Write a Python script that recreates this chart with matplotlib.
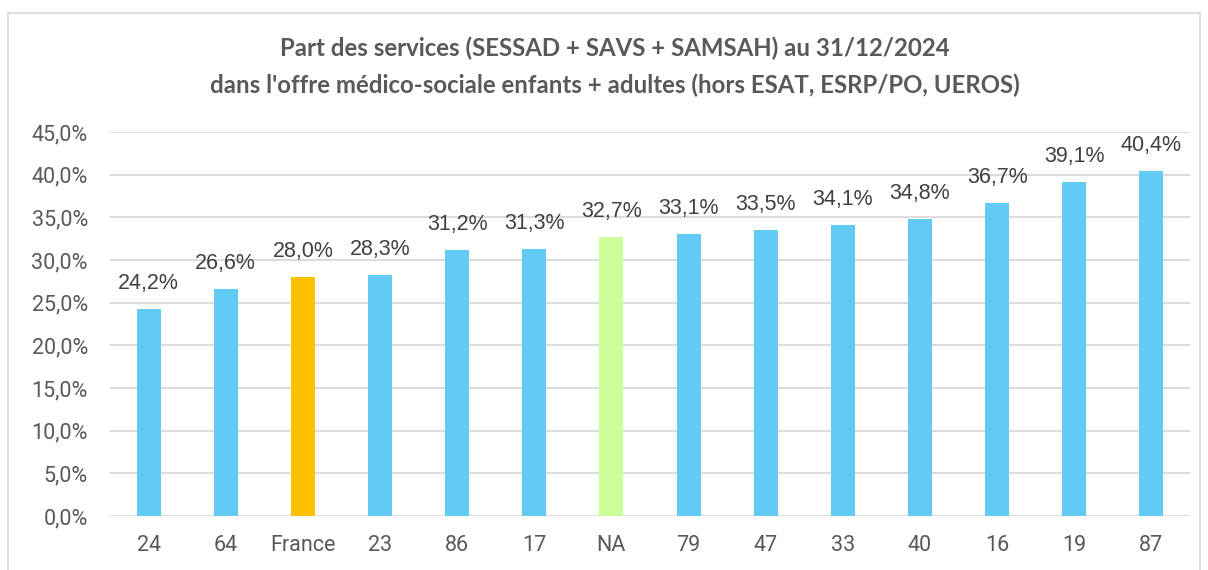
import matplotlib.pyplot as plt
from matplotlib.patches import Rectangle
from matplotlib.ticker import FuncFormatter
import numpy as np

# Data
territoires = ["24", "64", "France", "23", "86", "17", "NA", "79", "47", "33", "40", "16", "19", "87"]
parts       = [24.2, 26.6, 28.0, 28.3, 31.2, 31.3, 32.7, 33.1, 33.5, 34.1, 34.8, 36.7, 39.1, 40.4]
couleurs    = {"France": "#FFC000", "NA": "#CCFF99"}
bleu        = "#61CBF3"

titre = ("Part des services (SESSAD + SAVS + SAMSAH) au 31/12/2024\n"
         "dans l'offre médico-sociale enfants + adultes (hors ESAT, ESRP/PO, UEROS)")

fig = plt.figure(figsize=(12.08, 5.70), dpi=100)
ax  = fig.add_axes([110/1208, 54/570, 1080/1208, 384/570])

x    = np.arange(len(territoires))
cols = [couleurs.get(t, bleu) for t in territoires]
ax.bar(x, parts, width=0.31, color=cols, zorder=3)

for xi, v in zip(x, parts):
    ax.annotate(("%.1f%%" % v).replace(".", ","), (xi, v),
                xytext=(0, 14.4), textcoords="offset points",
                ha="center", va="baseline", fontsize=15.5,
                color="#404040", family="Liberation Sans")

ax.set_xlim(-0.5, len(territoires) - 0.5)
ax.set_ylim(0, 45)
ax.set_yticks(np.arange(0, 46, 5))
ax.yaxis.set_major_formatter(FuncFormatter(lambda v, p: ("%.1f%%" % v).replace(".", ",")))
ax.set_xticks(x)
ax.set_xticklabels(territoires)
ax.tick_params(axis="both", length=0, labelsize=15.5, labelcolor="#595959")
ax.tick_params(axis="x", pad=14)
ax.tick_params(axis="y", pad=16)
for lbl in ax.get_xticklabels() + ax.get_yticklabels():
    lbl.set_family("Roboto")

ax.grid(axis="y", color="#D9D9D9", linewidth=1.3, zorder=0)
for s in ax.spines.values():
    s.set_visible(False)

fig.text(615/1208, 1 - 67/570, titre, ha="center", va="center",
         fontsize=17.3, fontweight="bold", color="#595959",
         family="Lato", linespacing=1.68)

# chart border
fig.patches.append(Rectangle((8/1208, -0.05), 1192/1208, 1.05 - 13/570,
                             transform=fig.transFigure, fill=False,
                             edgecolor="#D9D9D9", linewidth=1.3))

fig.savefig("out.png", dpi=100)
